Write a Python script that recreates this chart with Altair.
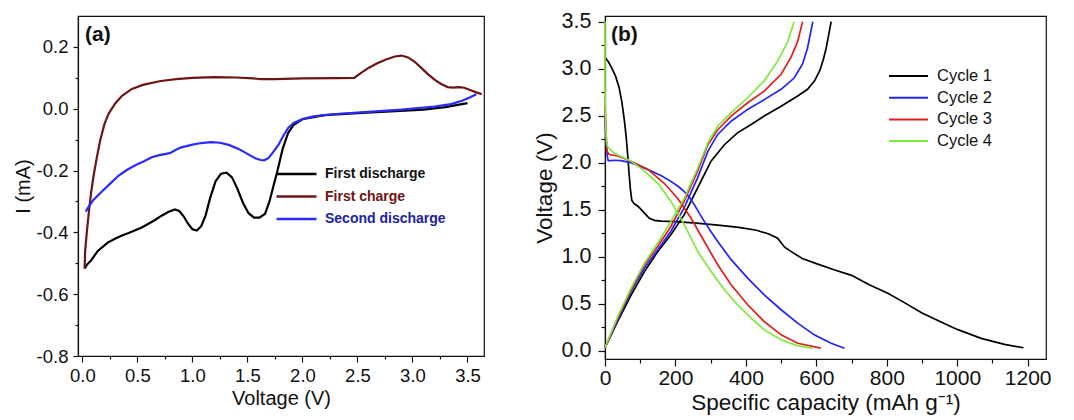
import altair as alt
import pandas as pd

FONT = "Liberation Sans"

# ---------------- Panel (a): cyclic voltammetry ----------------
fd_v = [0.02, 0.04, 0.08, 0.14, 0.23, 0.30, 0.36, 0.42, 0.48, 0.54, 0.60, 0.66, 0.72, 0.78, 0.84,
        0.88, 0.92, 0.96, 1.00, 1.04, 1.08, 1.12, 1.16, 1.21, 1.26, 1.31, 1.36, 1.41, 1.46, 1.51,
        1.56, 1.61, 1.66, 1.70, 1.74, 1.77, 1.82, 1.87, 1.92, 2.00, 2.20, 2.50, 2.80, 3.10, 3.30,
        3.50]
fd_i = [-0.517, -0.505, -0.490, -0.460, -0.433, -0.420, -0.410, -0.402, -0.393, -0.384, -0.372,
        -0.360, -0.346, -0.334, -0.326, -0.331, -0.348, -0.372, -0.390, -0.394, -0.380, -0.345,
        -0.290, -0.235, -0.210, -0.207, -0.222, -0.260, -0.305, -0.338, -0.352, -0.352, -0.340,
        -0.300, -0.245, -0.205, -0.130, -0.078, -0.052, -0.034, -0.021, -0.014, -0.009, -0.003,
        0.005, 0.018]

fc_v = [0.02, 0.025, 0.04, 0.06, 0.08, 0.10, 0.13, 0.16, 0.20, 0.24, 0.30, 0.36, 0.45, 0.55, 0.70,
        0.85, 1.00, 1.20, 1.40, 1.55, 1.62, 1.75, 2.00, 2.30, 2.47, 2.53, 2.60, 2.68, 2.76, 2.84,
        2.90, 2.96, 3.02, 3.08, 3.14, 3.20, 3.26, 3.32, 3.37, 3.42, 3.47, 3.53, 3.58, 3.63]
fc_i = [-0.517, -0.460, -0.400, -0.330, -0.270, -0.220, -0.160, -0.105, -0.050, -0.015, 0.018,
        0.042, 0.064, 0.077, 0.089, 0.096, 0.100, 0.102, 0.101, 0.098, 0.096, 0.096, 0.098, 0.099,
        0.100, 0.115, 0.132, 0.147, 0.159, 0.169, 0.172, 0.166, 0.152, 0.132, 0.112, 0.094, 0.080,
        0.070, 0.068, 0.070, 0.068, 0.060, 0.053, 0.047]

sd_v = [0.03, 0.06, 0.10, 0.17, 0.25, 0.33, 0.40, 0.48, 0.56, 0.63, 0.70, 0.76, 0.80, 0.85, 0.90,
        1.00, 1.08, 1.17, 1.25, 1.33, 1.42, 1.50, 1.57, 1.62, 1.65, 1.69, 1.73, 1.78, 1.83, 1.87,
        1.92, 2.00, 2.10, 2.30, 2.60, 2.90, 3.20, 3.35, 3.45, 3.52, 3.58]
sd_i = [-0.333, -0.315, -0.295, -0.270, -0.243, -0.216, -0.199, -0.183, -0.170, -0.157, -0.150,
        -0.146, -0.143, -0.133, -0.125, -0.116, -0.111, -0.108, -0.110, -0.117, -0.130, -0.146,
        -0.160, -0.166, -0.167, -0.160, -0.142, -0.118, -0.085, -0.062, -0.046, -0.033, -0.025,
        -0.017, -0.010, -0.003, 0.007, 0.015, 0.026, 0.036, 0.047]

a_names = ["First discharge", "First charge", "Second discharge"]
a_colors = ["#000000", "#6e1414", "#2a2aff"]
a_x_ticks = [0.0, 0.25, 0.5, 0.75, 1.0, 1.25, 1.5, 1.75, 2.0, 2.25, 2.5, 2.75, 3.0, 3.25, 3.5]
a_y_ticks = [-0.8, -0.7, -0.6, -0.5, -0.4, -0.3, -0.2, -0.1, 0.0, 0.1, 0.2]

# ---------------- Panel (b): charge / discharge profiles ----------------
c1d_c = [0, 10, 20, 30, 40, 48, 55, 60, 64, 68, 72, 76, 82, 95, 110, 125, 140, 160, 200, 260, 320,
         380, 430, 465, 490, 510, 530, 560, 600, 650, 700, 750, 803, 850, 900, 945, 1000, 1068,
         1134, 1188]
c1d_u = [3.12, 3.07, 3.00, 2.92, 2.80, 2.64, 2.45, 2.28, 2.10, 1.90, 1.72, 1.60, 1.565, 1.53, 1.47,
         1.41, 1.385, 1.378, 1.372, 1.355, 1.335, 1.31, 1.28, 1.24, 1.195, 1.10, 1.05, 0.98, 0.925,
         0.86, 0.80, 0.70, 0.61, 0.51, 0.40, 0.32, 0.225, 0.13, 0.065, 0.03]
c1c_c = [0, 36, 74, 112, 150, 187, 225, 263, 301, 339, 376, 415, 452, 500, 547, 575, 595, 610, 620,
         628, 635, 642]
c1c_u = [0.03, 0.31, 0.59, 0.84, 1.055, 1.233, 1.446, 1.73, 2.015, 2.19, 2.317, 2.406, 2.495, 2.60,
         2.708, 2.78, 2.87, 2.98, 3.10, 3.22, 3.36, 3.50]

c2d_c = [0, 3, 6, 9, 15, 30, 45, 74, 100, 131, 160, 187, 210, 225, 240, 254, 268, 282, 300, 320, 358,
         405, 452, 500, 547, 594, 642, 680]
c2d_u = [2.50, 2.25, 2.08, 2.02, 2.02, 2.025, 2.02, 2.00, 1.96, 1.91, 1.86, 1.80, 1.74, 1.69, 1.63,
         1.55, 1.46, 1.375, 1.27, 1.16, 0.967, 0.771, 0.593, 0.434, 0.291, 0.167, 0.078, 0.025]
c2c_c = [0, 36, 74, 112, 150, 187, 225, 263, 292, 320, 358, 405, 452, 500, 537, 561, 575, 590]
c2c_u = [0.03, 0.327, 0.63, 0.878, 1.073, 1.27, 1.52, 1.84, 2.12, 2.30, 2.44, 2.566, 2.67, 2.78, 2.90,
         3.05, 3.22, 3.50]

c3d_c = [0, 3, 6, 12, 36, 74, 121, 168, 206, 244, 282, 320, 358, 405, 452, 500, 547, 613]
c3d_u = [2.60, 2.30, 2.12, 2.086, 2.07, 2.015, 1.93, 1.78, 1.62, 1.41, 1.16, 0.913, 0.70, 0.487,
         0.309, 0.167, 0.078, 0.025]
c3c_c = [0, 36, 74, 112, 150, 187, 225, 263, 292, 320, 358, 405, 452, 500, 528, 547, 561]
c3c_u = [0.03, 0.345, 0.647, 0.913, 1.109, 1.32, 1.59, 1.91, 2.19, 2.35, 2.495, 2.637, 2.76, 2.94,
         3.12, 3.29, 3.50]

c4d_c = [0, 0, 2, 5, 9, 26, 74, 112, 150, 187, 225, 263, 301, 339, 376, 415, 452, 500, 547, 590]
c4d_u = [3.50, 2.80, 2.40, 2.20, 2.16, 2.10, 2.015, 1.91, 1.78, 1.59, 1.34, 1.055, 0.842, 0.647,
         0.487, 0.345, 0.22, 0.114, 0.05, 0.025]
c4c_c = [0, 36, 74, 112, 150, 187, 225, 263, 292, 320, 358, 405, 452, 490, 519, 537]
c4c_u = [0.03, 0.362, 0.665, 0.93, 1.144, 1.375, 1.62, 1.94, 2.21, 2.39, 2.53, 2.69, 2.87, 3.08,
         3.29, 3.50]

b_names = ["Cycle 1", "Cycle 2", "Cycle 3", "Cycle 4"]
b_colors = ["#000000", "#2222ff", "#e01e1e", "#7ee83c"]
b_x_ticks = [0, 100, 200, 300, 400, 500, 600, 700, 800, 900, 1000, 1100, 1200]
b_y_ticks = [0.0, 0.25, 0.5, 0.75, 1.0, 1.25, 1.5, 1.75, 2.0, 2.25, 2.5, 2.75, 3.0, 3.25, 3.5]

# ---------------- tables ----------------
rows_a = []
for name, xs, ys in zip(a_names, [fd_v, fc_v, sd_v], [fd_i, fc_i, sd_i]):
    for k, (x, y) in enumerate(zip(xs, ys)):
        rows_a.append({"V": x, "I": y, "series": name, "order": k})
dfa = pd.DataFrame(rows_a)

rows_b = []
segs = [("Cycle 1", "d", c1d_c, c1d_u), ("Cycle 1", "c", c1c_c, c1c_u),
        ("Cycle 2", "d", c2d_c, c2d_u), ("Cycle 2", "c", c2c_c, c2c_u),
        ("Cycle 3", "d", c3d_c, c3d_u), ("Cycle 3", "c", c3c_c, c3c_u),
        ("Cycle 4", "d", c4d_c, c4d_u), ("Cycle 4", "c", c4c_c, c4c_u)]
for name, part, xs, ys in segs:
    for k, (x, y) in enumerate(zip(xs, ys)):
        rows_b.append({"C": x, "U": y, "cycle": name, "seg": name + part, "order": k})
dfb = pd.DataFrame(rows_b)

# ---------------- panel (a) ----------------
maj_a_x = "round(datum.value*4) % 2 == 0"
maj_a_y = "round(datum.value*10) % 2 == 0"
label_a_color = ("datum.label == 'First charge' ? '#6e1414' : "
                 "(datum.label == 'Second discharge' ? '#2020a8' : '#111111')")

lines_a = alt.Chart(dfa).mark_line(strokeWidth=2.2).encode(
    x=alt.X("V:Q", scale=alt.Scale(domain=[-0.04, 3.65], nice=False, zero=False),
            axis=alt.Axis(title="Voltage (V)", values=a_x_ticks,
                          labelExpr="%s ? format(datum.value, '.1f') : ''" % maj_a_x,
                          tickSize={"condition": {"test": maj_a_x, "value": 6}, "value": 3},
                          labelOverlap=False, labelFlush=False, labelFontSize=18.5,
                          titleFontSize=20, labelPadding=4, titlePadding=4)),
    y=alt.Y("I:Q", scale=alt.Scale(domain=[-0.8, 0.3], nice=False, zero=False),
            axis=alt.Axis(title="I (mA)", values=a_y_ticks,
                          labelExpr="%s ? replace(format(datum.value, '.1f'), '\u2212', '-') : ''" % maj_a_y,
                          tickSize={"condition": {"test": maj_a_y, "value": 5}, "value": 3},
                          labelOverlap=False, labelFlush=False, labelFontSize=18.5,
                          titleFontSize=20, labelPadding=5, titlePadding=3)),
    color=alt.Color("series:N", sort=a_names,
                    scale=alt.Scale(domain=a_names, range=a_colors),
                    legend=alt.Legend(orient="none", legendX=197, legendY=149, title=None,
                                      symbolType="stroke", symbolSize=1600, symbolStrokeWidth=2.5,
                                      labelFont=FONT, labelFontSize=14, labelFontWeight="bold",
                                      labelColor={"expr": label_a_color},
                                      labelOffset=7, clipHeight=18, rowPadding=4.5, padding=0,
                                      labelLimit=300)),
    detail="series:N",
    order="order:Q",
)

tag_a = alt.Chart(pd.DataFrame({"t": ["(a)"]})).mark_text(
    font=FONT, fontSize=21, fontWeight="bold", align="left", baseline="top", color="#111"
).encode(text="t:N", x=alt.value(7), y=alt.value(8))

panel_a = alt.layer(lines_a, tag_a).properties(width=406, height=340)

# ---------------- panel (b) ----------------
maj_b_x = "datum.value % 200 == 0"
maj_b_y = "round(datum.value*4) % 2 == 0"

lines_b = alt.Chart(dfb).mark_line(strokeWidth=1.7).encode(
    x=alt.X("C:Q", scale=alt.Scale(domain=[0, 1252], nice=False, zero=False),
            axis=alt.Axis(title="Specific capacity (mAh g\u207b\u00b9)", values=b_x_ticks,
                          labelExpr="%s ? format(datum.value, 'd') : ''" % maj_b_x,
                          tickSize={"condition": {"test": maj_b_x, "value": 7}, "value": 4},
                          labelOverlap=False, labelFlush=False, labelFontSize=21,
                          titleFontSize=22.5, labelPadding=1, titlePadding=3)),
    y=alt.Y("U:Q", scale=alt.Scale(domain=[-0.09, 3.56], nice=False, zero=False),
            axis=alt.Axis(title="Voltage (V)", values=b_y_ticks,
                          labelExpr="%s ? format(datum.value, '.1f') : ''" % maj_b_y,
                          tickSize={"condition": {"test": maj_b_y, "value": 7}, "value": 4},
                          labelOverlap=False, labelFlush=False, labelFontSize=21.5,
                          titleFontSize=22.5, labelPadding=7, titlePadding=5)),
    color=alt.Color("cycle:N", sort=b_names,
                    scale=alt.Scale(domain=b_names, range=b_colors),
                    legend=alt.Legend(orient="none", legendX=283, legendY=51, title=None,
                                      symbolType="stroke", symbolSize=1521, symbolStrokeWidth=2,
                                      labelFont=FONT, labelFontSize=16.5, labelColor="#111111",
                                      labelOffset=8, clipHeight=18, rowPadding=3.7, padding=0)),
    detail="seg:N",
    order="order:Q",
)

tag_b = alt.Chart(pd.DataFrame({"t": ["(b)"]})).mark_text(
    font=FONT, fontSize=21, fontWeight="bold", align="left", baseline="top", color="#111"
).encode(text="t:N", x=alt.value(6), y=alt.value(8))

panel_b = alt.layer(lines_b, tag_b).properties(width=441, height=343)

chart = alt.hconcat(panel_a, panel_b, spacing=45).resolve_scale(color="independent").properties(
    padding={"left": 4, "top": 2, "right": 5, "bottom": 0}
).configure_view(stroke="#111", strokeWidth=1.2).configure_axis(
    grid=False, domainColor="#111", tickColor="#111", labelColor="#111", titleColor="#111",
    labelFont=FONT, titleFont=FONT, titleFontWeight="normal", domainWidth=1.2, tickWidth=1.2
).configure_legend(labelFont=FONT)

chart.save("out.html", embed_options={"renderer": "svg", "actions": False})
